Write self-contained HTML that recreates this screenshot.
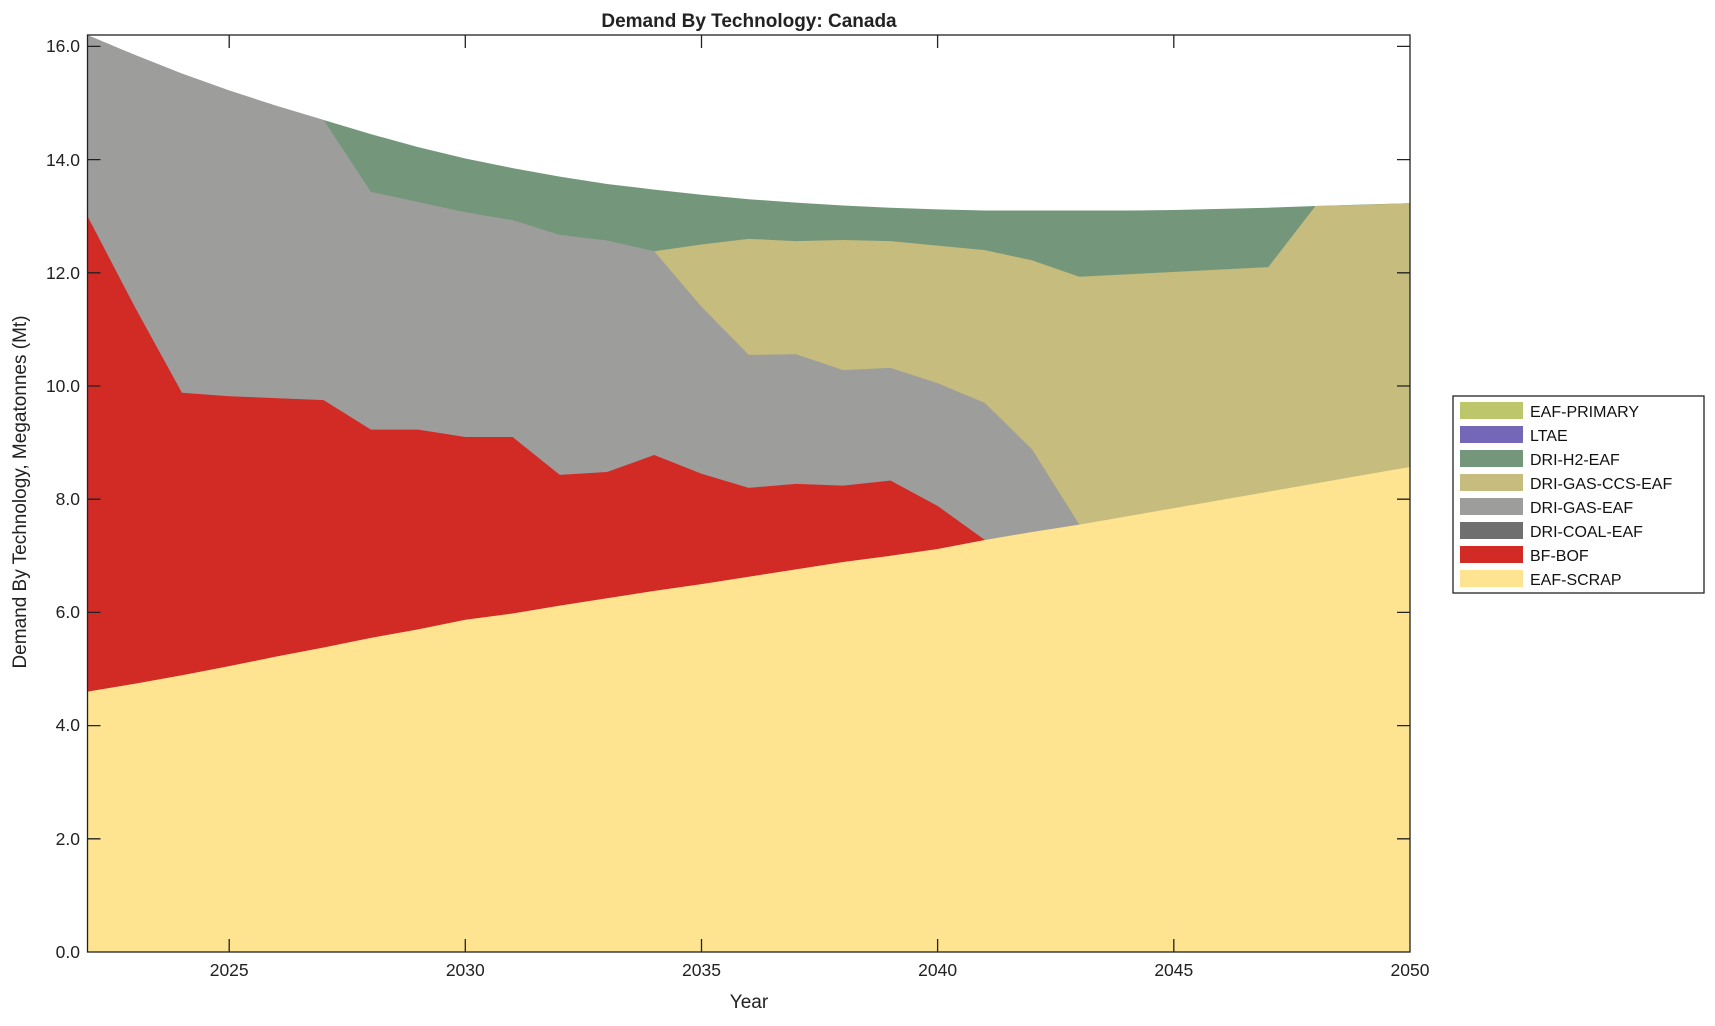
<!DOCTYPE html>
<html><head><meta charset="utf-8"><style>
body{margin:0;background:#fff;width:1715px;height:1021px;overflow:hidden;font-family:"Liberation Sans",Arial,sans-serif;}
</style></head><body>
<svg width="1715" height="1021" xmlns="http://www.w3.org/2000/svg" font-family="Liberation Sans, Arial, sans-serif">
<rect width="1715" height="1021" fill="#fff"/>
<g transform="translate(87.5,952) scale(47.23,-56.6)">
<polygon fill="#74977c" points="0,16.2 1,15.85 2,15.52 3,15.22 4,14.95 5,14.7 6,14.45 7,14.22 8,14.02 9,13.85 10,13.7 11,13.57 12,13.47 13,13.38 14,13.3 15,13.24 16,13.19 17,13.15 18,13.12 19,13.1 20,13.1 21,13.1 22,13.1 23,13.11 24,13.13 25,13.15 26,13.18 28,13.23 28,0 0,0"/>
<polygon fill="#c5bc7d" points="12,12.38 13,12.5 14,12.6 15,12.56 16,12.58 17,12.56 18,12.48 19,12.4 20,12.22 21,11.93 25,12.1 26,13.18 27,13.2 28,13.23 28,0 12,0"/>
<polygon fill="#9d9d9b" points="0,16.2 1,15.85 2,15.52 3,15.22 4,14.95 5,14.7 6,13.43 7,13.25 8,13.07 9,12.93 10,12.67 11,12.57 12,12.38 13,11.4 14,10.55 15,10.56 16,10.28 17,10.32 18,10.05 19,9.7 20,8.88 21,7.55 21,0 0,0"/>
<polygon fill="#d22a25" points="0,13.0 1,11.4 2,9.88 3,9.82 5,9.75 6,9.23 7,9.23 8,9.1 9,9.1 10,8.43 11,8.48 12,8.78 13,8.45 14,8.2 15,8.27 16,8.24 17,8.33 18,7.88 19,7.28 19,0 0,0"/>
<polygon fill="#fee391" points="0,4.6 1,4.74 2,4.89 3,5.05 4,5.22 5,5.38 6,5.55 7,5.7 8,5.87 9,5.98 10,6.12 11,6.25 12,6.38 13,6.5 14,6.63 15,6.76 16,6.89 17,7.0 18,7.12 19,7.28 20,7.42 21,7.55 28,8.57 28,0 0,0"/>
</g>
<g stroke="#222" stroke-width="1.3" fill="none">
<rect x="87.5" y="35" width="1322.5" height="917"/>
<path d="M229.2,952v-13M229.2,35v13M465.3,952v-13M465.3,35v13M701.5,952v-13M701.5,35v13M937.6,952v-13M937.6,35v13M1173.8,952v-13M1173.8,35v13
M87.5,838.8h13M1410,838.8h-13M87.5,725.6h13M1410,725.6h-13M87.5,612.4h13M1410,612.4h-13M87.5,499.2h13M1410,499.2h-13M87.5,386h13M1410,386h-13M87.5,272.8h13M1410,272.8h-13M87.5,159.6h13M1410,159.6h-13M87.5,46.4h13M1410,46.4h-13"/>
</g>
<g font-size="17.5" fill="#222" text-anchor="end">
<text x="80" y="958">0.0</text><text x="80" y="845">2.0</text><text x="80" y="731">4.0</text><text x="80" y="618">6.0</text><text x="80" y="505">8.0</text><text x="80" y="392">10.0</text><text x="80" y="279">12.0</text><text x="80" y="166">14.0</text><text x="80" y="52">16.0</text>
</g>
<g font-size="17.5" fill="#222" text-anchor="middle">
<text x="229.2" y="976">2025</text><text x="465.3" y="976">2030</text><text x="701.5" y="976">2035</text><text x="937.6" y="976">2040</text><text x="1173.8" y="976">2045</text><text x="1410" y="976">2050</text>
<text x="749" y="1008" font-size="19">Year</text>
<text x="749" y="27" font-size="19" font-weight="bold">Demand By Technology: Canada</text>
<text transform="translate(26,492) rotate(-90)" font-size="19">Demand By Technology, Megatonnes (Mt)</text>
</g>
<rect x="1453" y="396" width="251" height="197" fill="#fff" stroke="#222" stroke-width="1.3"/>
<g font-size="16" fill="#111">
<rect x="1460" y="402" width="63" height="17" fill="#bdc66a"/><text x="1530" y="417">EAF-PRIMARY</text>
<rect x="1460" y="426" width="63" height="17" fill="#7567b8"/><text x="1530" y="441">LTAE</text>
<rect x="1460" y="450" width="63" height="17" fill="#74977c"/><text x="1530" y="465">DRI-H2-EAF</text>
<rect x="1460" y="474" width="63" height="17" fill="#c5bc7d"/><text x="1530" y="489">DRI-GAS-CCS-EAF</text>
<rect x="1460" y="498" width="63" height="17" fill="#9d9d9b"/><text x="1530" y="513">DRI-GAS-EAF</text>
<rect x="1460" y="522" width="63" height="17" fill="#6f6f6f"/><text x="1530" y="537">DRI-COAL-EAF</text>
<rect x="1460" y="546" width="63" height="17" fill="#d22a25"/><text x="1530" y="561">BF-BOF</text>
<rect x="1460" y="570" width="63" height="17" fill="#fee391"/><text x="1530" y="585">EAF-SCRAP</text>
</g>
</svg>
</body></html>
